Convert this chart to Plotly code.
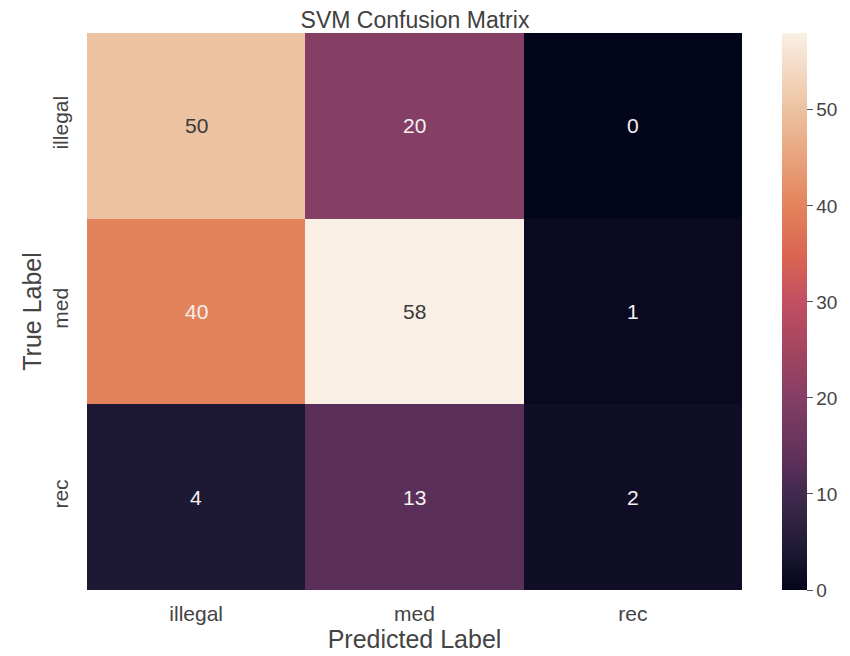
import plotly.graph_objects as go

pred_labels = ["illegal", "med", "rec"]
true_labels = ["illegal", "med", "rec"]
matrix = [
    [50, 20, 0],
    [40, 58, 1],
    [4, 13, 2],
]
cbar_ticks = [0, 10, 20, 30, 40, 50]
zmax = 58

colorscale = [
    [0.0, "#03051A"],
    [0.07, "#1D1834"],
    [0.17, "#3F2A4E"],
    [0.224, "#5A2F5A"],
    [0.345, "#853F65"],
    [0.43, "#A3455F"],
    [0.517, "#C24F62"],
    [0.6, "#DA6552"],
    [0.69, "#E3835C"],
    [0.78, "#E9A47F"],
    [0.862, "#ECC2A0"],
    [1.0, "#FAEFE5"],
]

FONT = "Liberation Sans, Arial"

# page body has an 8px margin, so figure is sized to the visible area
W, H = 842, 648
L, T, B, R = 79, 25, 66, 8
PW = W - L - R

fig = go.Figure(
    go.Heatmap(
        z=matrix,
        x=pred_labels,
        y=true_labels,
        zmin=0,
        zmax=zmax,
        colorscale=colorscale,
        colorbar=dict(
            x=(774 - L) / PW,
            xanchor="left",
            y=0.5,
            yanchor="middle",
            len=1.0,
            lenmode="fraction",
            ypad=0,
            xpad=0,
            thickness=25,
            outlinewidth=0,
            tickvals=cbar_ticks,
            ticks="outside",
            ticklen=6,
            tickwidth=1,
            tickcolor="#555555",
            tickfont=dict(family=FONT, size=19, color="#444444"),
        ),
        hoverinfo="z",
    )
)

annotations = []
for i, row in enumerate(matrix):
    for j, v in enumerate(row):
        dark_text = v >= 45
        annotations.append(
            dict(
                x=pred_labels[j],
                y=true_labels[i],
                text=str(v),
                showarrow=False,
                font=dict(
                    family=FONT,
                    size=21,
                    color="#3a3a3a" if dark_text else "#f5f0f0",
                ),
            )
        )

fig.update_layout(
    width=W,
    height=H,
    margin=dict(l=L, r=R, t=T, b=B, autoexpand=False),
    paper_bgcolor="white",
    plot_bgcolor="white",
    title=dict(
        text="SVM Confusion Matrix",
        x=407 / W,
        xanchor="center",
        y=1 - 12 / H,
        yanchor="middle",
        font=dict(family=FONT, size=23, color="#404040"),
    ),
    xaxis=dict(
        domain=[0, 655 / PW],
        automargin=False,
        title=dict(
            text="Predicted Label",
            font=dict(family=FONT, size=25, color="#444444"),
            standoff=4,
        ),
        tickfont=dict(family=FONT, size=21, color="#444444"),
        ticklabelstandoff=9,
        showgrid=False,
        zeroline=False,
        ticks="",
        showline=False,
    ),
    yaxis=dict(
        autorange="reversed",
        automargin=False,
        title=dict(
            text="True Label",
            font=dict(family=FONT, size=25, color="#444444"),
            standoff=0,
        ),
        tickangle=-90,
        tickfont=dict(family=FONT, size=21, color="#444444"),
        ticklabelstandoff=14,
        showgrid=False,
        zeroline=False,
        ticks="",
        showline=False,
    ),
    annotations=annotations,
)

fig.write_html("out.html")
